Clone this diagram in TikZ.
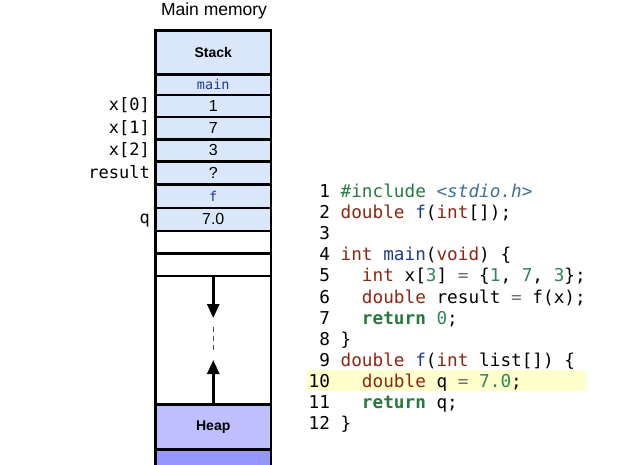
\documentclass[tikz,border=0pt]{standalone}
\usepackage{fontspec}
\setmainfont{Liberation Sans}
\newfontfamily\mono{DejaVu Sans Mono}
\usetikzlibrary{arrows.meta}
\definecolor{lb}{RGB}{218,230,250}
\definecolor{heapc}{RGB}{191,191,255}
\definecolor{botc}{RGB}{150,150,255}
\definecolor{hl}{RGB}{255,255,204}
\definecolor{cgreen}{RGB}{38,122,62}
\definecolor{cnum}{RGB}{46,134,88}
\definecolor{ckey}{RGB}{140,38,16}
\definecolor{cfun}{RGB}{30,58,140}
\definecolor{cstr}{RGB}{62,112,150}
\definecolor{cop}{RGB}{110,110,110}
\newcommand\kw[1]{\textcolor{ckey}{#1}}
\newcommand\fn[1]{\textcolor{cfun}{#1}}
\newcommand\nm[1]{\textcolor{cnum}{#1}}
\newcommand\eqop{\textcolor{cop}{=}}
\newcommand\lnum[1]{\makebox[1.204em][r]{#1}\hphantom{x}}
\newcommand\ind{\hphantom{xx}}
\begin{document}
\begin{tikzpicture}[x=1pt,y=-1pt,
  cell/.style={draw=black,line width=2.6pt,minimum width=115.5pt,inner sep=0pt,anchor=north},
  val/.style={font=\fontsize{16}{16}\selectfont},
  fr/.style={font=\mono\fontsize{13.5}{13.5}\selectfont,text=cfun},
  lab/.style={font=\mono\fontsize{17}{17}\selectfont,anchor=base east,inner sep=0pt},
  codeline/.style={font=\mono\fontsize{17.7}{17.7}\selectfont,anchor=base west,inner sep=0pt},
  arr/.style={line width=2.6pt,-{Triangle[width=12pt,length=14pt]}},
  ]
\useasboundingbox (0,0) rectangle (634,464);
\frenchspacing
% title
\node[font=\fontsize{17.5}{17.5}\selectfont] (title) at (214,10.5) {Main memory};
% memory cells
\node[cell,fill=lb,minimum height=44pt,font=\bfseries\fontsize{14}{14}\selectfont] (stack) at (213.25,29) {Stack};
\node[cell,fill=lb,minimum height=20.5pt,fr] (main) at (213.25,73) {main};
\node[cell,fill=lb,minimum height=22pt,val] (x0) at (213.25,93.5) {1};
\node[cell,fill=lb,minimum height=22.5pt,val] (x1) at (213.25,115.5) {7};
\node[cell,fill=lb,minimum height=22pt,val] (x2) at (213.25,138) {3};
\node[cell,fill=lb,minimum height=23pt,val] (res) at (213.25,160) {?};
\node[cell,fill=lb,minimum height=23.5pt,fr] (f) at (213.25,183) {f};
\node[cell,fill=lb,minimum height=23pt,val] (q) at (213.25,206.5) {7.0};
\node[cell,fill=white,minimum height=22.5pt] (e1) at (213.25,229.5) {};
\node[cell,fill=white,minimum height=22.5pt] (e2) at (213.25,252) {};
\node[cell,fill=white,minimum height=128.5pt] (gap) at (213.25,274.5) {};
\node[cell,fill=heapc,minimum height=45pt,font=\bfseries\fontsize{14}{14}\selectfont] (heap) at (213.25,403) {Heap};
\node[cell,fill=botc,minimum height=30pt] (bot) at (213.25,448) {};
% labels
\node[lab] (lx0) at (150,110) {x[0]};
\node[lab] (lx1) at (150,133) {x[1]};
\node[lab] (lx2) at (150,155) {x[2]};
\node[lab] (lres) at (150,178) {result};
\node[lab] (lq) at (150,223) {q};
% arrows
\coordinate (dtip) at (213.25,318);
\coordinate (utip) at (213.25,360);
\coordinate (da) at (213.25,327);
\coordinate (db) at (213.25,353);
\draw[arr] (gap.north) -- (dtip);
\draw[arr] (heap.north) -- (utip);
\draw[line width=1pt,draw=black!70,dash pattern=on 5pt off 4pt] (da) -- (db);
% highlight
\fill[hl] (307,370) rectangle (586,391);
% code
\node[codeline] (c1) at (308.5,197.5) {\lnum{1}\textcolor{cgreen}{\#include} \textcolor{cstr}{\itshape <stdio.h>}};
\node[codeline] (c2) at (308.5,218.6) {\lnum{2}\kw{double} \fn{f}(\kw{int}[]);};
\node[codeline] (c3) at (308.5,239.7) {\lnum{3}};
\node[codeline] (c4) at (308.5,260.8) {\lnum{4}\kw{int} \fn{main}(\kw{void}) \{};
\node[codeline] (c5) at (308.5,281.9) {\lnum{5}\ind\kw{int} x[\nm{3}] \eqop{} \{\nm{1}, \nm{7}, \nm{3}\};};
\node[codeline] (c6) at (308.5,303) {\lnum{6}\ind\kw{double} result \eqop{} f(x);};
\node[codeline] (c7) at (308.5,324.1) {\lnum{7}\ind\textcolor{cgreen}{\bfseries return} \nm{0};};
\node[codeline] (c8) at (308.5,345.2) {\lnum{8}\}};
\node[codeline] (c9) at (308.5,366.3) {\lnum{9}\kw{double} \fn{f}(\kw{int} list[]) \{};
\node[codeline] (c10) at (308.5,387.4) {\lnum{10}\ind\kw{double} q \eqop{} \nm{7.0};};
\node[codeline] (c11) at (308.5,408.5) {\lnum{11}\ind\textcolor{cgreen}{\bfseries return} q;};
\node[codeline] (c12) at (308.5,429.6) {\lnum{12}\}};
\end{tikzpicture}
\end{document}
